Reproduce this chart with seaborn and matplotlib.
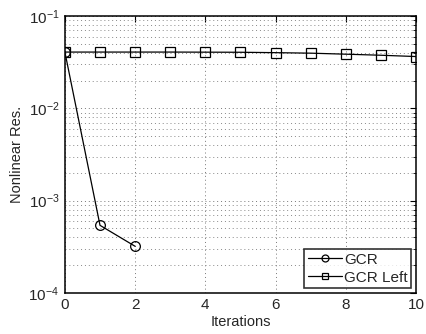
import matplotlib
matplotlib.use("Agg")
import matplotlib.pyplot as plt
import seaborn as sns
import pandas as pd
from matplotlib.ticker import LogLocator, NullFormatter

# data
gcr_iter = [0, 1, 2]
gcr_res = [0.0407, 5.4e-4, 3.2e-4]
left_iter = [0, 1, 2, 3, 4, 5, 6, 7, 8, 9, 10]
left_res = [0.0407, 0.0407, 0.0407, 0.0407, 0.0406, 0.0405, 0.0401, 0.0396,
            0.0386, 0.0376, 0.0364]

df = pd.concat([
    pd.DataFrame({"Iterations": gcr_iter, "res": gcr_res, "method": "GCR"}),
    pd.DataFrame({"Iterations": left_iter, "res": left_res, "method": "GCR Left"}),
])

sns.set_style("white")
plt.rcParams["font.family"] = ["Liberation Sans", "DejaVu Sans"]
plt.rcParams["mathtext.fontset"] = "custom"
plt.rcParams["mathtext.rm"] = "Liberation Sans"

fig = plt.figure(figsize=(4.27, 3.34), dpi=100)
ax = fig.add_axes([0.152, 0.123, 0.822, 0.829])

sns.lineplot(data=df, x="Iterations", y="res", style="method",
             markers={"GCR": "o", "GCR Left": "s"}, dashes=False,
             color="black", linewidth=0.9, markersize=7,
             markerfacecolor="none", markeredgecolor="black",
             markeredgewidth=0.9, ax=ax)

ax.set_yscale("log")
ax.set_ylim(1e-4, 1e-1)
ax.set_xlim(0, 10)
ax.set_xticks([0, 2, 4, 6, 8, 10])
ax.yaxis.set_major_locator(LogLocator(base=10, numticks=10))
ax.yaxis.set_minor_locator(LogLocator(base=10, subs=range(2, 10), numticks=20))
ax.yaxis.set_minor_formatter(NullFormatter())

ax.grid(True, which="major", linestyle=(0, (1, 3)), color="#777777", linewidth=0.7)
ax.grid(True, which="minor", axis="y", linestyle=(0, (1, 3)), color="#888888", linewidth=0.7)
ax.tick_params(direction="in", which="both", top=True, right=True,
               labelsize=11, length=4, color="black", pad=4)
ax.tick_params(which="minor", length=2)
for s in ax.spines.values():
    s.set_color("black")
    s.set_linewidth(1.1)

ax.set_xlabel("Iterations", fontsize=10.5, labelpad=2)
ax.set_ylabel("Nonlinear Res.", fontsize=10.5, labelpad=3)

leg = ax.legend(loc="lower right", fontsize=11, frameon=True, fancybox=False,
                edgecolor="black", handlelength=2.2, borderpad=0.25,
                labelspacing=0.25, handletextpad=0.15, borderaxespad=0.3)
leg.get_frame().set_linewidth(1.2)
for h in leg.legend_handles:
    h.set_markersize(5)

fig.savefig("out.png", dpi=100)
